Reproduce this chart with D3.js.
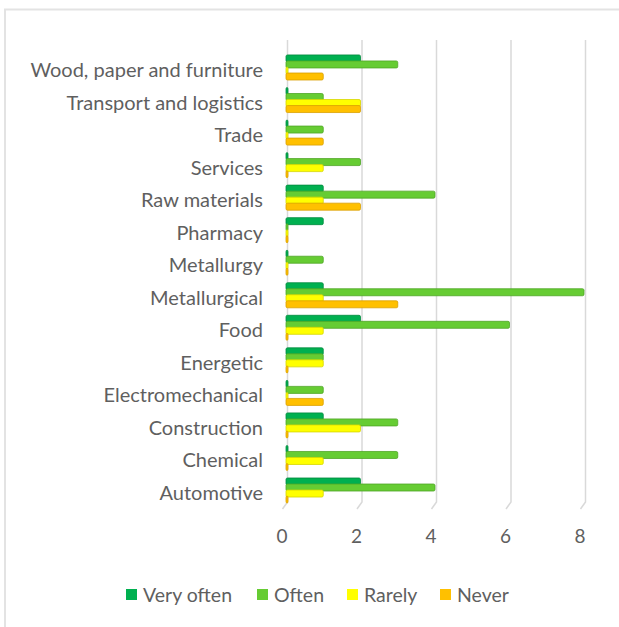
<!DOCTYPE html>
<html>
<head>
<meta charset="utf-8">
<script src="https://cdn.jsdelivr.net/npm/d3@7"></script>
<style>
  body { margin: 0; background: #fff; }
  text { font-family: Lato, "Open Sans", sans-serif; fill: #5f5f5f; }
</style>
</head>
<body>
<div id="chart"></div>
<script>
// data, top to bottom as shown
var categories = ["Wood, paper and furniture", "Transport and logistics", "Trade", "Services",
  "Raw materials", "Pharmacy", "Metallurgy", "Metallurgical", "Food", "Energetic",
  "Electromechanical", "Construction", "Chemical", "Automotive"];
var seriesNames = ["Very often", "Often", "Rarely", "Never"];
var veryOften  = [2, 0, 0, 0, 1, 1, 0, 1, 2, 1, 0, 1, 0, 2];
var often      = [3, 1, 1, 2, 4, 0, 1, 8, 6, 1, 1, 3, 3, 4];
var rarely     = [0, 2, 0, 1, 1, 0, 0, 1, 1, 1, 0, 2, 1, 1];
var never      = [1, 2, 1, 0, 2, 0, 0, 3, 0, 0, 1, 0, 0, 0];
var xTicks = [0, 2, 4, 6, 8];

var colors = ["#00B050", "#66CC33", "#FFFF00", "#FFC000"];
var edges  = ["#008a3e", "#4fa626", "#d6d600", "#d99f00"];

var svgWidth = 619, svgHeight = 627;

var svg = d3.select("#chart").append("svg")
    .attr("width", svgWidth)
    .attr("height", svgHeight);

// chart frame (only top and left edges visible)
svg.append("line").attr("x1", 4).attr("x2", 619).attr("y1", 9.5).attr("y2", 9.5)
    .attr("stroke", "#e3e3e3").attr("stroke-width", 2);
svg.append("line").attr("x1", 5).attr("x2", 5).attr("y1", 9).attr("y2", 627)
    .attr("stroke", "#e3e3e3").attr("stroke-width", 2);

var rows = categories.map(function(c, i) {
    return { name: c, values: [veryOften[i], often[i], rarely[i], never[i]] };
});

var x = d3.scaleLinear().domain([0, 8]).range([286, 584]);

var y = d3.scaleBand()
    .domain(categories)
    .range([51.2, 506.8])
    .paddingInner(0.23)
    .paddingOuter(0.115);

var barH = 7;
var ySub = d3.scalePoint()
    .domain(seriesNames)
    .range([0, y.bandwidth() - barH]);

// gridlines with the little 3D floor slant
var gridTop = 40, gridBend = 502, gridBottom = 509;
svg.append("g").selectAll("path")
    .data(xTicks)
    .enter()
    .append("path")
    .attr("d", function(d) {
        var gx = x(d) + 1.5;
        return "M" + gx + "," + gridTop + "L" + gx + "," + gridBend + "L" + (gx - 5) + "," + gridBottom;
    })
    .attr("fill", "none")
    .attr("stroke", "#d9d9d9")
    .attr("stroke-width", 1.5);

// tick labels
svg.append("g").selectAll("text")
    .data(xTicks)
    .enter()
    .append("text")
    .attr("x", function(d) { return x(d) - 4; })
    .attr("y", 536)
    .attr("dy", "0.35em")
    .attr("text-anchor", "middle")
    .style("font-size", "19px")
    .text(function(d) { return d; });

// bars
var groups = svg.append("g").selectAll("g")
    .data(rows)
    .enter()
    .append("g")
    .attr("transform", function(d) { return "translate(0," + y(d.name) + ")"; });

groups.selectAll("rect")
    .data(function(d) { return d.values.map(function(v, j) { return { v: v, j: j }; }); })
    .enter()
    .append("rect")
    .attr("x", x(0))
    .attr("y", function(d) { return ySub(seriesNames[d.j]); })
    .attr("height", barH)
    .attr("width", function(d) { return Math.max(x(d.v) - x(0), 2); })
    .attr("rx", 1.5)
    .attr("fill", function(d) { return colors[d.j]; })
    .attr("stroke", function(d) { return edges[d.j]; })
    .attr("stroke-width", 0.8);

// category labels
svg.append("g").selectAll("text")
    .data(categories)
    .enter()
    .append("text")
    .attr("x", 263)
    .attr("y", function(d) { return y(d) + y.bandwidth() / 2 + 2.5; })
    .attr("dy", "0.35em")
    .attr("text-anchor", "end")
    .style("font-size", "20px")
    .text(function(d) { return d; });

// legend
var legendX = [126, 257, 347, 440];
var legend = svg.append("g").selectAll("g")
    .data(seriesNames)
    .enter()
    .append("g")
    .attr("transform", function(d, i) { return "translate(" + legendX[i] + ",589)"; });

legend.append("rect")
    .attr("width", 11)
    .attr("height", 11)
    .attr("fill", function(d, i) { return colors[i]; });

legend.append("text")
    .attr("x", 17)
    .attr("y", 6)
    .attr("dy", "0.35em")
    .style("font-size", "19.5px")
    .text(function(d) { return d; });
</script>
</body>
</html>
